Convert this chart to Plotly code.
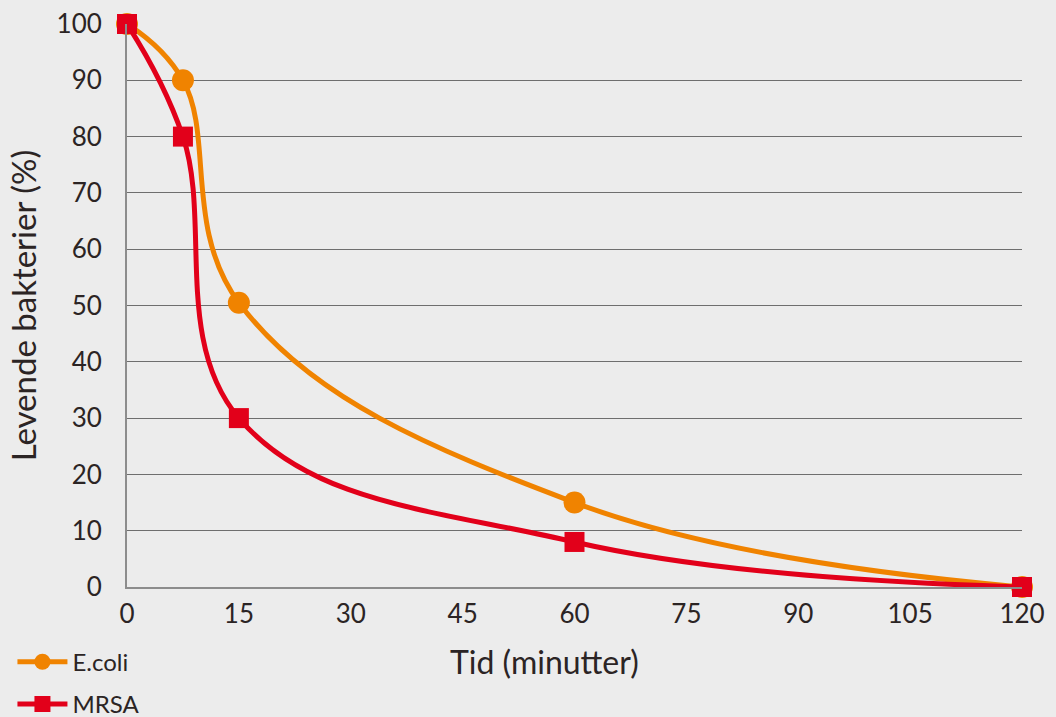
import plotly.graph_objects as go

time_min = [0, 7.5, 15, 60, 120]
ecoli = [100, 90, 50.5, 15, 0]
mrsa = [100, 80, 30, 8, 0]
x_ticks = [0, 15, 30, 45, 60, 75, 90, 105, 120]
y_ticks = [0, 10, 20, 30, 40, 50, 60, 70, 80, 90, 100]

ORANGE = "#f08300"
RED = "#e2001a"
TEXT = "#2b2424"
BG = "#ececec"

fig = go.Figure()
fig.add_trace(go.Scatter(
    x=time_min, y=ecoli, name="E.coli", mode="lines+markers", legendgroup="a",
    line=dict(color=ORANGE, width=5, shape="spline", smoothing=1.15),
    marker=dict(symbol="circle", size=22, color=ORANGE),
    cliponaxis=False,
))
fig.add_trace(go.Scatter(
    x=time_min, y=mrsa, name="MRSA", mode="lines+markers", legendgroup="b",
    line=dict(color=RED, width=5, shape="spline", smoothing=1.15),
    marker=dict(symbol="square", size=20, color=RED),
    cliponaxis=False,
))

fig.update_layout(
    width=1056, height=717,
    paper_bgcolor=BG, plot_bgcolor=BG,
    margin=dict(l=127, r=34, t=24, b=130, autoexpand=False),
    font=dict(family="Lato", color=TEXT, size=26),
    showlegend=True,
    legend=dict(
        x=-0.128, xanchor="left", y=-0.248, yanchor="bottom",
        font=dict(size=24, color=TEXT), bgcolor="rgba(0,0,0,0)",
        tracegroupgap=8, itemwidth=50,
    ),
    xaxis=dict(
        range=[0, 120], tickvals=x_ticks, showgrid=False, zeroline=False,
        showline=True, linecolor="#8c8c8c", linewidth=2, automargin=False,
        ticks="", tickfont=dict(size=26, color=TEXT), ticklabelstandoff=3,
    ),
    yaxis=dict(
        range=[0, 100], tickvals=y_ticks, showgrid=True, gridcolor="#6e6e6e",
        gridwidth=1.3, zeroline=False, showline=True, linecolor="#8c8c8c", linewidth=2,
        automargin=False,
        ticks="", tickfont=dict(size=26, color=TEXT), ticklabelstandoff=18,
        title=dict(text="Levende bakterier (%)", font=dict(size=33, color=TEXT), standoff=10),
    ),
    annotations=[dict(
        text="Tid (minutter)", xref="paper", yref="paper", x=0.466, y=-0.133,
        xanchor="center", yanchor="middle", showarrow=False,
        font=dict(size=32, color=TEXT),
    )],
)

fig.write_html(
    "out.html",
    config={"displayModeBar": False},
    post_script="document.body.style.margin='0';document.body.style.background='#ececec';",
)
